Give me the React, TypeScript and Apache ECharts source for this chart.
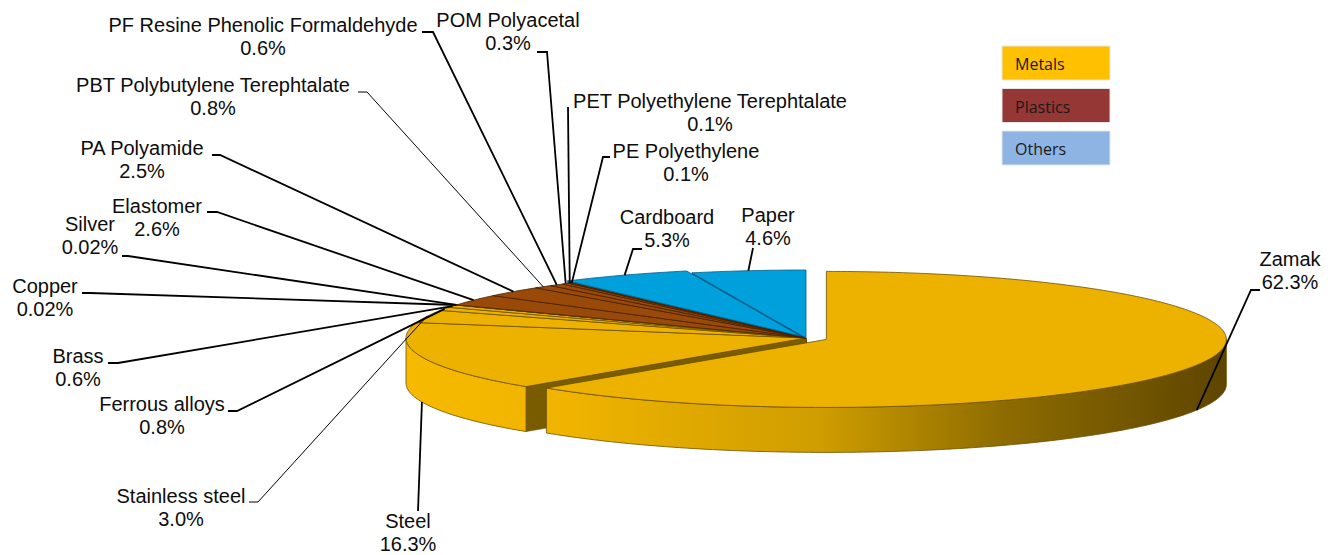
import React, { useEffect, useRef } from "react";
import * as echarts from "echarts";

// ---------- data ----------
const categories = [
  "Zamak",
  "Steel",
  "Stainless steel",
  "Ferrous alloys",
  "Brass",
  "Copper",
  "Silver",
  "Elastomer",
  "PA Polyamide",
  "PBT Polybutylene Terephtalate",
  "PF Resine Phenolic Formaldehyde",
  "POM Polyacetal",
  "PET Polyethylene Terephtalate",
  "PE Polyethylene",
  "Cardboard",
  "Paper",
];
const shares = [62.3, 16.3, 3.0, 0.8, 0.6, 0.02, 0.02, 2.6, 2.5, 0.8, 0.6, 0.3, 0.1, 0.1, 5.3, 4.6];
const groupOf = [0, 0, 0, 0, 0, 0, 0, 1, 1, 1, 1, 1, 1, 1, 2, 2];
const legendNames = ["Metals", "Plastics", "Others"];

// ---------- layout / style ----------
const CX = 806;
const CY = 338;
const RX = 400;
const RY = 68;
const DEPTH = 45;
const EXPLODE: Record<string, number> = { Zamak: 22, Cardboard: 12 };

const TOP_COLORS = ["#EDB100", "#9A4A08", "#00A0DC"];
const EDGE_COLORS = ["#6b5000", "#4a2200", "#005f8a"];
const RADIAL_COLORS = ["#7a5c00", "#5e2c04", "#00638f"];
const LEGEND_COLORS = ["#FFC000", "#953735", "#8DB4E2"];

// label block centre x, centre y, leader start x/y, elbow x/y
const LABEL_LAYOUT: Record<string, number[]> = {
  Zamak: [1290, 270, 1260, 290, 1251, 290],
  Steel: [408, 532.5, 418, 511, 418, 511],
  "Stainless steel": [181, 507, 249, 502, 258, 502],
  "Ferrous alloys": [162, 415.5, 228, 411, 237, 411],
  Brass: [78, 367.5, 108, 363, 118, 363],
  Copper: [45, 297, 82, 293, 90, 293],
  Silver: [90, 235.5, 122, 256, 128, 256],
  Elastomer: [157, 217, 207, 212, 217, 212],
  "PA Polyamide": [142, 159, 212, 155, 220, 155],
  "PBT Polybutylene Terephtalate": [213, 96.5, 358, 92, 367, 92],
  "PF Resine Phenolic Formaldehyde": [263, 36.5, 422, 32, 433, 32],
  "POM Polyacetal": [508, 31.5, 537, 52, 547, 52],
  "PET Polyethylene Terephtalate": [710, 112, 568, 107, 568, 107],
  "PE Polyethylene": [686, 162, 610, 157, 603, 157],
  Cardboard: [667, 228.5, 642, 249, 633, 249],
  Paper: [768, 226, 753, 248, 753, 248],
};
const THIN_LEADERS = new Set(["PBT Polybutylene Terephtalate", "Stainless steel"]);

const TOTAL = shares.reduce((a, b) => a + b, 0);
const cumStart: number[] = [];
{
  let acc = 0;
  for (const v of shares) {
    cumStart.push(acc);
    acc += v;
  }
}

const fmtPct = (v: number) => `${v.toFixed(v < 0.1 ? 2 : 1)}%`;

const metalWall = () =>
  new echarts.graphic.LinearGradient(
    400,
    0,
    1225,
    0,
    [
      { offset: 0, color: "#F6BA00" },
      { offset: 0.2, color: "#F0B400" },
      { offset: 0.51, color: "#CF9D00" },
      { offset: 0.73, color: "#8E6C00" },
      { offset: 1, color: "#5E4500" },
    ],
    true
  );

const FONT = '20px "Liberation Sans", Arial, sans-serif';

function renderItem(params: any, api: any) {
  const i = params.dataIndex;
  const v = api.value(0) as number;
  const g = groupOf[i];
  const name = categories[i];
  const a0 = (cumStart[i] / TOTAL) * Math.PI * 2;
  const a1 = ((cumStart[i] + v) / TOTAL) * Math.PI * 2;
  const mid = (a0 + a1) / 2;
  const e = EXPLODE[name] || 0;
  const ox = CX + e * Math.sin(mid);
  const oy = CY - (e * Math.cos(mid) * RY) / RX;
  const P = (a: number, dy = 0) => [ox + RX * Math.sin(a), oy - RY * Math.cos(a) + dy];
  const arc = (from: number, to: number, dy: number) => {
    const n = Math.max(2, Math.ceil(Math.abs(to - from) / (Math.PI / 180)));
    const pts: number[][] = [];
    for (let k = 0; k <= n; k++) pts.push(P(from + ((to - from) * k) / n, dy));
    return pts;
  };
  const children: any[] = [];

  // top face
  children.push({
    type: "polygon",
    shape: { points: [[ox, oy], ...arc(a0, a1, 0)] },
    style: { fill: TOP_COLORS[g], stroke: EDGE_COLORS[g], lineWidth: 0.8 },
    z2: 1000,
  });

  // outer (front) wall
  const lo = Math.max(a0, Math.PI / 2);
  const hi = Math.min(a1, (Math.PI * 3) / 2);
  if (lo < hi) {
    const topPts = arc(lo, hi, 0);
    const pts = [...topPts, ...arc(hi, lo, DEPTH)];
    const depth = topPts.reduce((s, p) => s + p[1], 0) / topPts.length;
    children.push({
      type: "polygon",
      shape: { points: pts },
      style: { fill: g === 0 ? metalWall() : RADIAL_COLORS[g], stroke: EDGE_COLORS[g], lineWidth: 0.8 },
      z2: depth,
    });
  }

  // radial walls
  const radial = (a: number) => {
    const p = P(a);
    children.push({
      type: "polygon",
      shape: { points: [[ox, oy], p, [p[0], p[1] + DEPTH], [ox, oy + DEPTH]] },
      style: { fill: RADIAL_COLORS[g], stroke: EDGE_COLORS[g], lineWidth: 0.6 },
      z2: (oy + p[1]) / 2,
    });
  };
  if (Math.sin(a0) < -1e-6) radial(a0);
  if (Math.sin(a1) > 1e-6) radial(a1);

  // leader + label
  const lay = LABEL_LAYOUT[name];
  if (lay) {
    const t = P(mid);
    const front = mid > Math.PI / 2 && mid < (Math.PI * 3) / 2;
    const target = front ? [t[0], t[1] + DEPTH] : t;
    children.push({
      type: "polyline",
      shape: { points: [[lay[2], lay[3]], [lay[4], lay[5]], target] },
      style: { stroke: "#000", lineWidth: THIN_LEADERS.has(name) ? 1 : 1.8, fill: null },
      z2: 2000,
    });
    children.push({
      type: "text",
      style: {
        text: `${name}\n${fmtPct(v)}`,
        x: lay[0],
        y: lay[1],
        font: FONT,
        fill: "#0d0d0d",
        align: "center",
        verticalAlign: "middle",
        textAlign: "center",
        textVerticalAlign: "middle",
        lineHeight: 23,
      },
      z2: 2001,
    });
  }

  return { type: "group", children };
}

export default function App() {
  const ref = useRef<HTMLDivElement>(null);
  useEffect(() => {
    if (!ref.current) return;
    const chart = echarts.init(ref.current, undefined, { renderer: "svg" });
    const legendGraphics: any[] = [];
    legendNames.forEach((n, k) => {
      const y = 46 + k * 42.5;
      legendGraphics.push({
        type: "rect",
        shape: { x: 1002, y, width: 108, height: 34 },
        style: { fill: LEGEND_COLORS[k], stroke: "#e6e6e6", lineWidth: 1 },
      });
      legendGraphics.push({
        type: "text",
        style: {
          text: n,
          x: 1015,
          y: y + 18,
          font: '16px "Open Sans", "Liberation Sans", Arial, sans-serif',
          fill: "#1a1a1a",
          textVerticalAlign: "middle",
          verticalAlign: "middle",
        },
      });
    });
    chart.setOption({
      animation: false,
      backgroundColor: "#ffffff",
      graphic: legendGraphics,
      series: [
        {
          type: "custom",
          coordinateSystem: "none",
          silent: true,
          renderItem,
          data: shares.map((v) => [v]),
        },
      ],
    });
    return () => chart.dispose();
  }, []);
  return (
    <div
      ref={ref}
      style={{ position: "fixed", left: 0, top: 0, width: 1331, height: 555, background: "#fff" }}
    />
  );
}
